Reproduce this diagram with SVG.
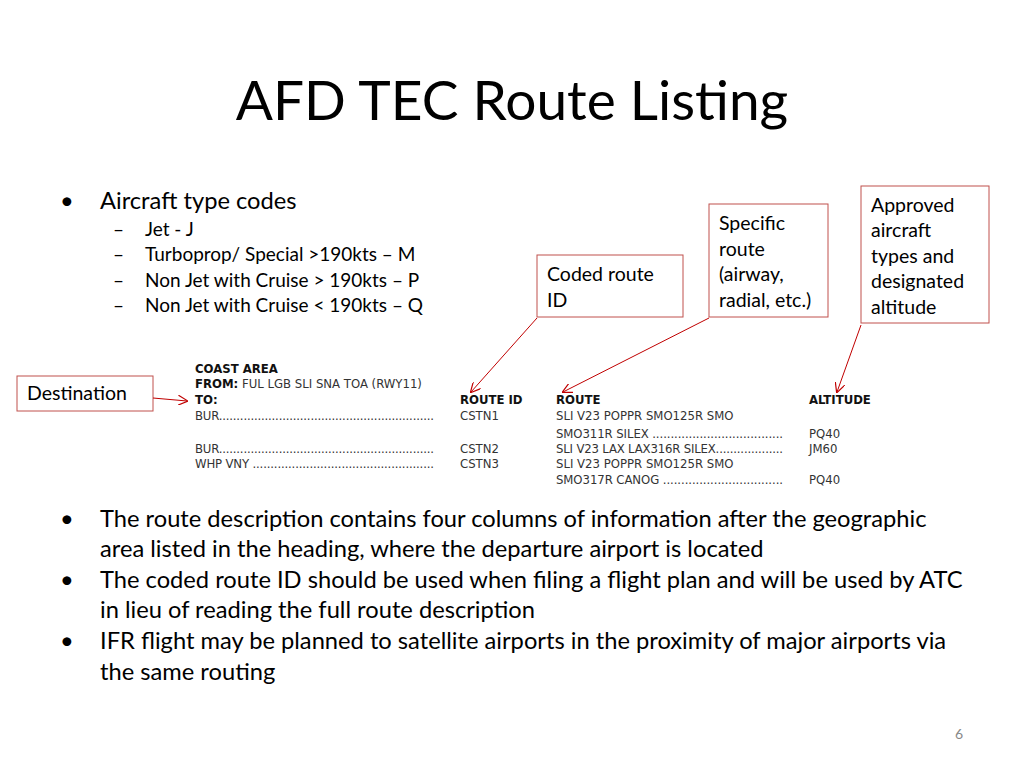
<svg xmlns="http://www.w3.org/2000/svg" width="1024" height="768" viewBox="0 0 1024 768">
<defs>
<style>
.t{font-family:Lato,"Open Sans",sans-serif;fill:#000}
.b{font-size:23.7px}
.s{font-size:19px}
.k{font-size:19.5px}
.tb{font-family:"Liberation Sans Narrow","DejaVu Sans Condensed","Liberation Sans",sans-serif;font-size:13px;fill:#333}
.h{font-weight:bold;fill:#111}
.box{fill:#fff;stroke:#c0504d;stroke-width:1}
.con{stroke:#c00000;stroke-width:1;fill:none;marker-end:url(#ar)}
</style>
<marker id="ar" viewBox="0 0 10 10" refX="9" refY="5" markerWidth="10" markerHeight="10" orient="auto" markerUnits="userSpaceOnUse"><path d="M0,0 L10,5 L0,10" fill="none" stroke="#c00000" stroke-width="1.2"/></marker>
</defs>
<rect width="1024" height="768" fill="#fff"/>
<text class="t" x="512" y="120" font-size="55" text-anchor="middle">AFD TEC Route Listing</text>
<g id="bullets1">
<text class="t b" x="60" y="209">•</text>
<text class="t b" x="100" y="209">Aircraft type codes</text>
<text class="t s" x="113" y="236">–</text><text class="t s" x="145" y="236">Jet - J</text>
<text class="t s" x="113" y="261">–</text><text class="t s" x="145" y="261">Turboprop/ Special &gt;190kts – M</text>
<text class="t s" x="113" y="287">–</text><text class="t s" x="145" y="287">Non Jet with Cruise &gt; 190kts – P</text>
<text class="t s" x="113" y="312">–</text><text class="t s" x="145" y="312">Non Jet with Cruise &lt; 190kts – Q</text>
</g>
<g id="table">
<text class="tb h" x="195" y="373">COAST AREA</text>
<text class="tb" x="195" y="388"><tspan class="h">FROM:</tspan> FUL LGB SLI SNA TOA (RWY11)</text>
<text class="tb h" x="195" y="404">TO:</text>
<text class="tb h" x="460" y="404">ROUTE ID</text>
<text class="tb h" x="556" y="404">ROUTE</text>
<text class="tb h" x="809" y="404">ALTITUDE</text>
<text class="tb" x="195" y="420" textLength="239" lengthAdjust="spacing">BUR.............................................................</text>
<text class="tb" x="460" y="420">CSTN1</text>
<text class="tb" x="556" y="420">SLI V23 POPPR SMO125R SMO</text>
<text class="tb" x="556" y="438" textLength="227" lengthAdjust="spacing">SMO311R SILEX ....................................</text>
<text class="tb" x="809" y="438">PQ40</text>
<text class="tb" x="195" y="453" textLength="239" lengthAdjust="spacing">BUR.............................................................</text>
<text class="tb" x="460" y="453">CSTN2</text>
<text class="tb" x="556" y="453" textLength="227" lengthAdjust="spacing">SLI V23 LAX LAX316R SILEX...................</text>
<text class="tb" x="809" y="453">JM60</text>
<text class="tb" x="195" y="468" textLength="239" lengthAdjust="spacing">WHP VNY ...................................................</text>
<text class="tb" x="460" y="468">CSTN3</text>
<text class="tb" x="556" y="468">SLI V23 POPPR SMO125R SMO</text>
<text class="tb" x="556" y="484" textLength="227" lengthAdjust="spacing">SMO317R CANOG .................................</text>
<text class="tb" x="809" y="484">PQ40</text>
</g>
<g id="destination"><rect class="box" x="17" y="376" width="136" height="35"/><text class="t k" x="27" y="400">Destination</text></g>
<g id="coded"><rect class="box" x="537" y="255" width="146" height="62"/><text class="t k" x="547" y="281">Coded route</text><text class="t k" x="547" y="307">ID</text></g>
<g id="specific"><rect class="box" x="709" y="204" width="119" height="113"/><text class="t k" x="719" y="230">Specific</text><text class="t k" x="719" y="256">route</text><text class="t k" x="719" y="281">(airway,</text><text class="t k" x="719" y="307">radial, etc.)</text></g>
<g id="approved"><rect class="box" x="861" y="186" width="128" height="137"/><text class="t k" x="871" y="212">Approved</text><text class="t k" x="871" y="237">aircraft</text><text class="t k" x="871" y="263">types and</text><text class="t k" x="871" y="288">designated</text><text class="t k" x="871" y="314">altitude</text></g>
<g id="connectors">
<line class="con" x1="153" y1="398" x2="187" y2="401"/>
<line class="con" x1="537" y1="318" x2="471" y2="392"/>
<line class="con" x1="709" y1="318" x2="563" y2="392"/>
<line class="con" x1="861" y1="325" x2="837" y2="392"/>
</g>
<g id="bullets2">
<text class="t b" x="60" y="527">•</text>
<text class="t b" x="100" y="527">The route description contains four columns of information after the geographic</text>
<text class="t b" x="100" y="557">area listed in the heading, where the departure airport is located</text>
<text class="t b" x="60" y="588">•</text>
<text class="t b" x="100" y="588">The coded route ID should be used when filing a flight plan and will be used by ATC</text>
<text class="t b" x="100" y="618">in lieu of reading the full route description</text>
<text class="t b" x="60" y="649">•</text>
<text class="t b" x="100" y="649">IFR flight may be planned to satellite airports in the proximity of major airports via</text>
<text class="t b" x="100" y="680">the same routing</text>
</g>
<text x="963" y="739" font-family="Lato,sans-serif" font-size="14" fill="#888" text-anchor="end">6</text>
</svg>
